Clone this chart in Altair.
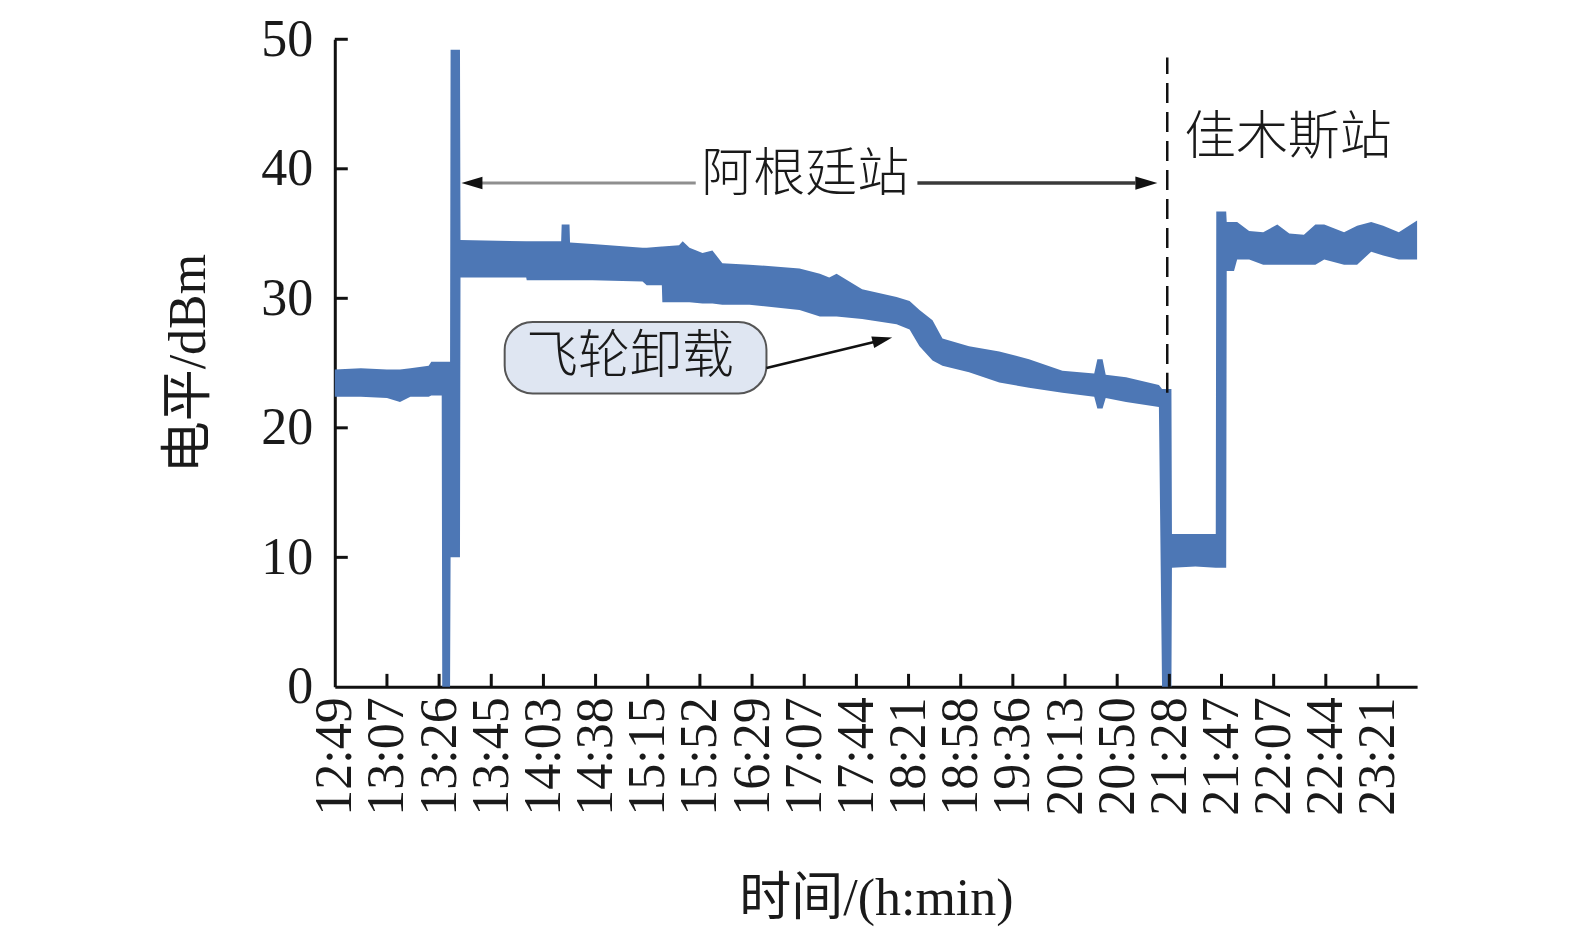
import altair as alt
import pandas as pd

# ---------------- data ----------------
TIME_LABELS = ["12:49", "13:07", "13:26", "13:45", "14:03", "14:38", "15:15",
               "15:52", "16:29", "17:07", "17:44", "18:21", "18:58", "19:36",
               "20:13", "20:50", "21:28", "21:47", "22:07", "22:44", "23:21"]
TICK_POS = list(range(len(TIME_LABELS)))
Y_TICKS = [0, 10, 20, 30, 40, 50]

# sample position (in tick-index units) with lower / upper edge of the noisy level band
BAND_X = [0.00, 0.50, 1.00, 1.25, 1.45, 1.80, 1.85, 2.05, 2.06, 2.21, 2.22, 2.40,
          2.41, 3.67, 3.68, 4.34, 4.35, 4.50, 4.51, 4.94, 5.90, 5.98, 6.27, 6.28,
          6.60, 6.67, 6.80, 7.05, 7.24, 7.43, 7.95, 8.91, 9.30, 9.48, 9.62, 10.11,
          10.77, 11.02, 11.21, 11.46, 11.65, 12.16, 12.74, 13.31, 13.95, 14.56,
          14.62, 14.72, 14.78, 15.17, 15.80, 15.86, 16.04, 16.05, 16.50, 16.89,
          16.90, 17.09, 17.10, 17.24, 17.30, 17.53, 17.80, 18.07, 18.30, 18.58,
          18.80, 18.97, 19.35, 19.60, 19.87, 20.10, 20.40, 20.75]
BAND_LOW = [22.4, 22.4, 22.3, 22.0, 22.4, 22.4, 22.5, 22.5, 0.0, 0.0, 10.0, 10.0,
            31.6, 31.6, 31.4, 31.4, 31.4, 31.4, 31.4, 31.4, 31.3, 31.0, 31.0, 29.7,
            29.7, 29.7, 29.7, 29.6, 29.6, 29.5, 29.5, 29.1, 28.6, 28.6, 28.6, 28.4,
            28.0, 27.6, 26.3, 25.2, 24.8, 24.3, 23.5, 23.1, 22.7, 22.4,
            21.5, 21.5, 22.3, 22.0, 21.6, 0.0, 0.0, 9.2, 9.3, 9.2,
            9.2, 9.2, 32.1, 32.1, 33.0, 33.0, 32.6, 32.6, 32.6, 32.6,
            32.6, 33.0, 32.6, 32.6, 33.6, 33.3, 33.0, 33.0]
BAND_HIGH = [24.5, 24.6, 24.5, 24.5, 24.6, 24.8, 25.1, 25.1, 25.1, 25.1, 49.2, 49.2,
             34.5, 34.4, 34.4, 34.4, 35.7, 35.7, 34.3, 34.2, 33.9, 33.9, 34.0, 34.0,
             34.1, 34.4, 33.9, 33.5, 33.7, 32.7, 32.6, 32.3, 31.9, 31.6, 31.9, 30.7,
             30.1, 29.8, 29.1, 28.3, 26.9, 26.3, 25.9, 25.3, 24.4, 24.2,
             25.3, 25.3, 24.1, 23.9, 23.3, 23.0, 23.0, 11.8, 11.8, 11.8,
             36.7, 36.7, 35.9, 35.9, 35.9, 35.2, 35.1, 35.7, 35.0, 34.9,
             35.7, 35.7, 35.1, 35.6, 35.9, 35.6, 35.1, 36.0]

# annotation anchors (data units)
ARG_TEXT = ["阿根廷站"]
ARG_TEXT_POS = [9.02, 39.5]
ARG_LEFT_LINE = [2.65, 6.92, 38.9]
ARG_LEFT_HEAD = [2.63, 38.9]
ARG_RIGHT_LINE = [11.17, 15.35, 38.9]
ARG_RIGHT_HEAD = [15.56, 38.9]
JMS_TEXT = ["佳木斯站"]
JMS_TEXT_POS = [16.28, 42.4]
DASH_LINE = [15.96, 22.7, 48.6]
BOX_TEXT = ["飞轮卸载"]
BOX_RECT = [3.257, 8.276, 22.65, 28.18]
BOX_TEXT_POS = [5.66, 25.5]
BOX_ARROW = [8.276, 24.62, 10.36, 26.64]
BOX_HEAD = [10.50, 26.79]

BLUE = "#4d77b5"
SERIF = "Liberation Serif, Noto Sans CJK SC"
CJK = "Noto Sans CJK SC"
TOP = 31
W, H = 1083, 679 - TOP

band_df = pd.DataFrame({"t": BAND_X, "lo": BAND_LOW, "hi": BAND_HIGH})

xs = alt.Scale(domain=[0, 20.75], nice=False, zero=False)
ys = alt.Scale(domain=[0, 50], nice=False)

label_expr = "[" + ",".join("'%s'" % s for s in TIME_LABELS) + "][round(datum.value)]"

band = alt.Chart(band_df).mark_area(color=BLUE, opacity=1).encode(
    x=alt.X("t:Q", scale=xs,
            axis=alt.Axis(values=TICK_POS, labelExpr=label_expr, title="时间/(h:min)",
                          labelAngle=270, labelPadding=10, titlePadding=58)),
    y=alt.Y("lo:Q", scale=ys,
            axis=alt.Axis(values=Y_TICKS, title="电平/dBm", labelPadding=22,
                          titlePadding=45)),
    y2="hi:Q",
)


def pt(x, y, **extra):
    d = {"x": [x], "y": [y]}
    d.update({k: [v] for k, v in extra.items()})
    return pd.DataFrame(d)


X = alt.X("x:Q", scale=xs)
Y = alt.Y("y:Q", scale=ys)

# inward axis ticks
xt = alt.Chart(pd.DataFrame({"x": TICK_POS[1:]})).mark_rule(color="#111", strokeWidth=3).encode(
    x=X, y=alt.value(H), y2=alt.value(H - 13))
yt = alt.Chart(pd.DataFrame({"y": Y_TICKS[1:]})).mark_rule(color="#111", strokeWidth=3).encode(
    y=Y, x=alt.value(0), x2=alt.value(13))

dash = alt.Chart(pd.DataFrame({"x": [DASH_LINE[0]], "y": [DASH_LINE[1]], "y2": [DASH_LINE[2]]})).mark_rule(
    color="#111", strokeWidth=2.5, strokeDash=[20, 9]).encode(x=X, y=Y, y2="y2:Q")

lline = alt.Chart(pd.DataFrame({"x": [ARG_LEFT_LINE[0]], "x2": [ARG_LEFT_LINE[1]], "y": [ARG_LEFT_LINE[2]]})).mark_rule(
    color="#8f8f8f", strokeWidth=3).encode(x=X, x2="x2:Q", y=Y)
rline = alt.Chart(pd.DataFrame({"x": [ARG_RIGHT_LINE[0]], "x2": [ARG_RIGHT_LINE[1]], "y": [ARG_RIGHT_LINE[2]]})).mark_rule(
    color="#3a3a3a", strokeWidth=3.5).encode(x=X, x2="x2:Q", y=Y)

LEFT_TRI = "M1,-0.6L-1,0L1,0.6Z"
RIGHT_TRI = "M-1,-0.6L1,0L-1,0.6Z"

lhead = alt.Chart(pt(*ARG_LEFT_HEAD)).mark_point(
    shape=LEFT_TRI, size=441, filled=True, color="#111", opacity=1, strokeWidth=0).encode(x=X, y=Y)
rhead = alt.Chart(pt(*ARG_RIGHT_HEAD)).mark_point(
    shape=RIGHT_TRI, size=484, filled=True, color="#111", opacity=1, strokeWidth=0).encode(x=X, y=Y)

arg_txt = alt.Chart(pt(*ARG_TEXT_POS, label=ARG_TEXT[0])).mark_text(
    font=CJK, fontSize=52, fontWeight=300, color="#1a1a1a", align="center", baseline="middle").encode(
    x=X, y=Y, text="label:N")
jms_txt = alt.Chart(pt(*JMS_TEXT_POS, label=JMS_TEXT[0])).mark_text(
    font=CJK, fontSize=52, fontWeight=300, color="#1a1a1a", align="left", baseline="middle").encode(
    x=X, y=Y, text="label:N")

box = alt.Chart(pd.DataFrame({"x": [BOX_RECT[0]], "x2": [BOX_RECT[1]], "y": [BOX_RECT[2]], "y2": [BOX_RECT[3]]})).mark_rect(
    fill="#dfe6f2", stroke="#555", strokeWidth=2, cornerRadius=28).encode(x=X, x2="x2:Q", y=Y, y2="y2:Q")
box_txt = alt.Chart(pt(*BOX_TEXT_POS, label=BOX_TEXT[0])).mark_text(
    font=CJK, fontSize=52, fontWeight=300, color="#1a1a1a", align="center", baseline="middle").encode(
    x=X, y=Y, text="label:N")
box_line = alt.Chart(pd.DataFrame({"x": [BOX_ARROW[0]], "y": [BOX_ARROW[1]], "x2": [BOX_ARROW[2]], "y2": [BOX_ARROW[3]]})).mark_rule(
    color="#111", strokeWidth=2.5).encode(x=X, y=Y, x2="x2:Q", y2="y2:Q")
box_head = alt.Chart(pt(*BOX_HEAD)).mark_point(
    shape=RIGHT_TRI, size=400, angle=346, filled=True, color="#111", opacity=1, strokeWidth=0).encode(x=X, y=Y)

chart = alt.layer(
    band, xt, yt, dash, lline, rline, lhead, rhead, arg_txt, jms_txt,
    box, box_txt, box_line, box_head,
).properties(
    width=W, height=H,
    padding={"left": 327, "top": TOP, "right": 150, "bottom": 244},
    autosize=alt.AutoSizeParams(type="none"),
    background="white",
).configure_view(strokeWidth=0).configure_axis(
    grid=False, ticks=False, domainColor="#111", domainWidth=3,
    labelFont=SERIF, labelFontSize=52, labelColor="#1a1a1a",
    titleFont=SERIF, titleFontSize=52, titleFontWeight="normal", titleColor="#1a1a1a",
)

chart.save("out.html", embed_options={"renderer": "svg", "actions": False})
